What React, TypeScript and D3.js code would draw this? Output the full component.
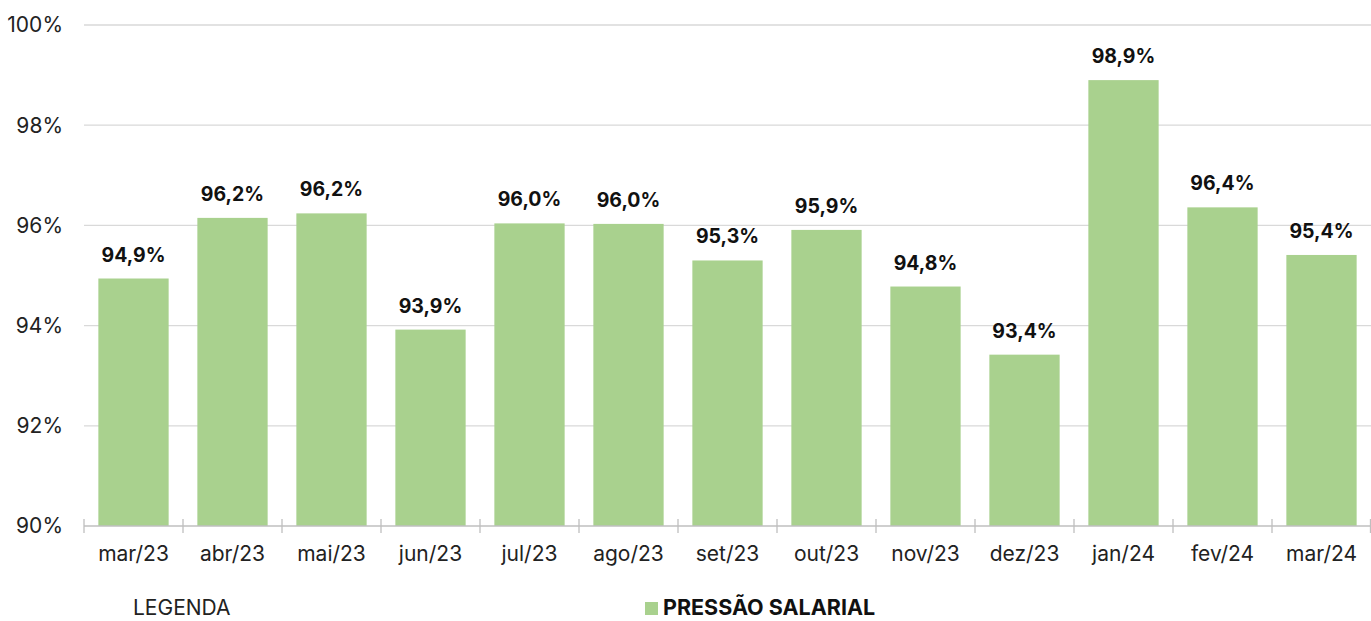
import React from 'react';
import * as d3 from 'd3';

const months = ['mar/23', 'abr/23', 'mai/23', 'jun/23', 'jul/23', 'ago/23', 'set/23', 'out/23', 'nov/23', 'dez/23', 'jan/24', 'fev/24', 'mar/24'];
const pressao = [94.94, 96.15, 96.24, 93.92, 96.04, 96.03, 95.3, 95.91, 94.78, 93.42, 98.9, 96.36, 95.41];
const labels = ['94,9%', '96,2%', '96,2%', '93,9%', '96,0%', '96,0%', '95,3%', '95,9%', '94,8%', '93,4%', '98,9%', '96,4%', '95,4%'];
const yTicks = [90, 92, 94, 96, 98, 100];

const W = 1371;
const H = 621;
const left = 84;
const right = 1371;
const top = 25;
const bottom = 526;
const font = 'Inter, Lato, sans-serif';

const App = () => {
  const x = d3.scaleBand().domain(months).range([left, right]).paddingInner(0.29).paddingOuter(0.145);
  const band = d3.scaleBand().domain(months).range([left, right]);
  const y = d3.scaleLinear().domain([90, 100]).range([bottom, top]);

  return (
    <svg width={W} height={H} style={{ position: 'absolute', left: 0, top: 0 }}>
      {/* grid */}
      {yTicks.filter(t => t > 90).map(t => (
        <line key={t} x1={left} x2={right} y1={y(t)} y2={y(t)} stroke="#d9d9d9" strokeWidth={1.3} />
      ))}
      {yTicks.map(t => (
        <text key={t} x={63} y={y(t)} dy="0.35em" textAnchor="end" fontFamily={font} fontSize={21} fill="#222">{t}%</text>
      ))}

      {/* bars */}
      {months.map((m, i) => (
        <g key={m}>
          <rect x={x(m)} y={y(pressao[i])} width={x.bandwidth()} height={bottom - y(pressao[i])} fill="#a9d18e" />
          <text x={x(m)! + x.bandwidth() / 2} y={y(pressao[i]) - 17} textAnchor="middle" fontFamily={font} fontWeight="bold" fontSize={19.5} fill="#111">{labels[i]}</text>
          <text x={band(m)! + band.bandwidth() / 2} y={561} textAnchor="middle" fontFamily={font} fontSize={21} fill="#222">{m}</text>
        </g>
      ))}

      {/* x axis */}
      <line x1={left} x2={right} y1={bottom} y2={bottom} stroke="#bfbfbf" strokeWidth={1.3} />
      {months.map(m => (
        <line key={m} x1={band(m)} x2={band(m)} y1={bottom - 7} y2={bottom + 7} stroke="#bfbfbf" strokeWidth={1.3} />
      ))}
      <line x1={right - 0.5} x2={right - 0.5} y1={bottom - 7} y2={bottom + 7} stroke="#bfbfbf" strokeWidth={1.3} />

      {/* legend */}
      <text x={133} y={615} fontFamily={font} fontSize={21} fill="#222">LEGENDA</text>
      <rect x={645} y={602} width={13} height={13} fill="#a9d18e" />
      <text x={663} y={615} fontFamily={font} fontWeight="bold" fontSize={21.5} fill="#111">PRESSÃO SALARIAL</text>
    </svg>
  );
};

export default App;
